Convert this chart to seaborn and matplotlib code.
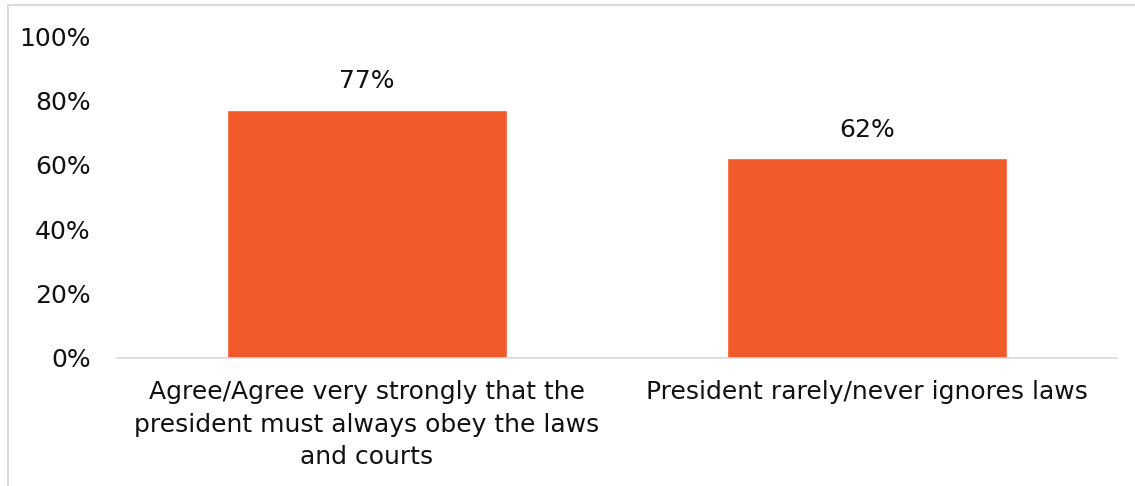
import matplotlib
matplotlib.use("Agg")
import matplotlib.pyplot as plt
import matplotlib.patches as mpatches
from matplotlib.ticker import PercentFormatter
import seaborn as sns
import pandas as pd

categories = ["Agree/Agree very strongly that the\npresident must always obey the laws\nand courts",
              "President rarely/never ignores laws"]
values = [0.77, 0.62]
value_labels = ["77%", "62%"]

sns.set_style("white")
plt.rcParams['font.family'] = ['DejaVu Sans']

df = pd.DataFrame({"category": categories, "value": values})

fig = plt.figure(figsize=(11.35, 4.86), dpi=100)
ax = fig.add_axes([0.1031, 0.2634, 0.8810, 0.6625])

sns.barplot(data=df, x="category", y="value", color="#F15A2B", width=0.56,
            saturation=1, ax=ax)

ax.set_ylim(0, 1)
ax.set_xlim(-0.5, 1.5)
ax.set_yticks([0, 0.2, 0.4, 0.6, 0.8, 1.0])
ax.yaxis.set_major_formatter(PercentFormatter(1.0, decimals=0))
ax.set_xlabel("")
ax.set_ylabel("")
ax.tick_params(axis="both", length=0, labelsize=18, colors="#111111")
ax.tick_params(axis="y", pad=19)
ax.tick_params(axis="x", pad=16)
for lbl in ax.get_xticklabels():
    lbl.set_linespacing(1.45)

for s in ["top", "right", "left"]:
    ax.spines[s].set_visible(False)
ax.spines["bottom"].set_color("#D9D9D9")
ax.spines["bottom"].set_linewidth(1.2)

ax.bar_label(ax.containers[0], labels=value_labels, padding=12, fontsize=18, color="#111111")

# light border around the chart area
fig.patches.append(mpatches.Rectangle((8 / 1135, -0.05), 1.1, 1 - 5 / 486 + 0.05,
                                      transform=fig.transFigure, fill=False,
                                      edgecolor="#D9D9D9", linewidth=1.5))

fig.savefig("out.png", dpi=100)
